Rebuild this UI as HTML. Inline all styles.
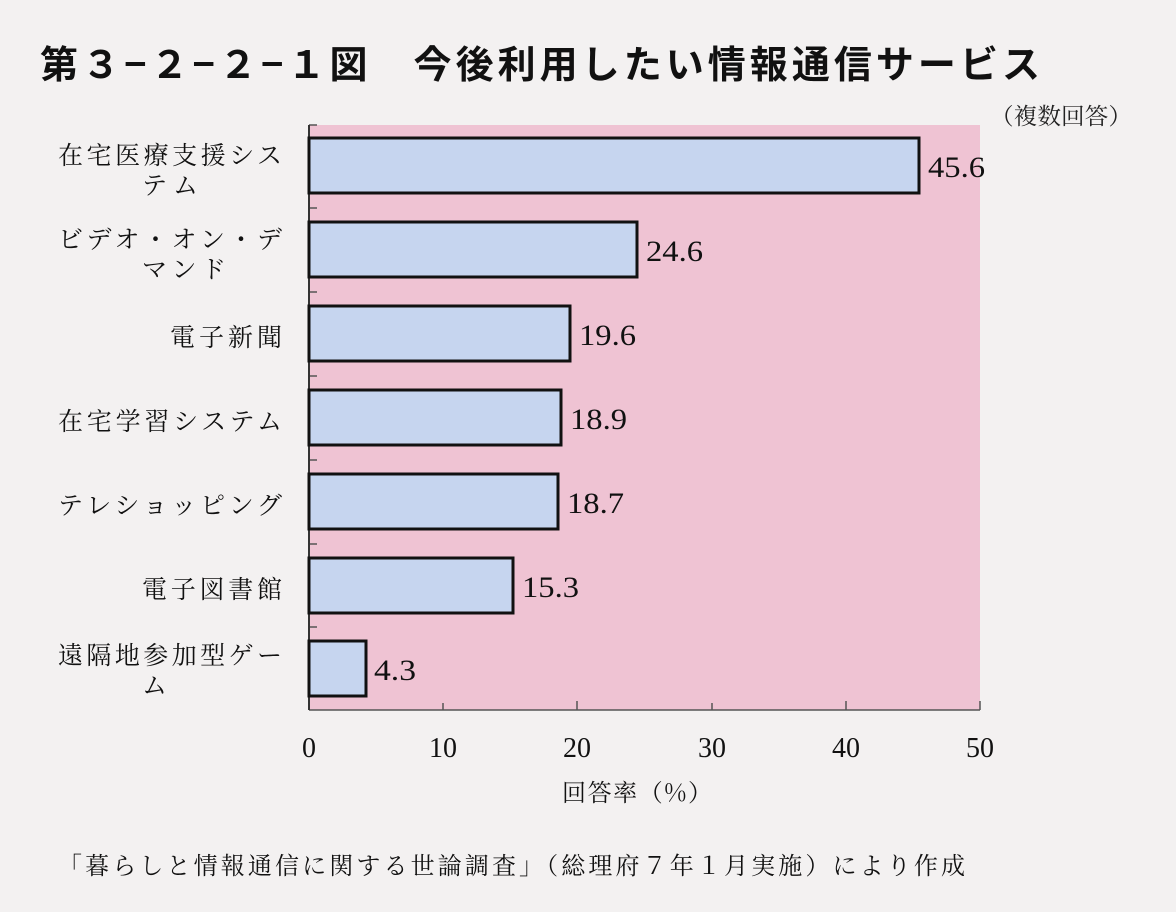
<!DOCTYPE html>
<html><head><meta charset="utf-8"><style>
html,body{margin:0;padding:0;background:#f3f1f1;}
svg{display:block}
</style></head><body>
<svg width="1176" height="912" viewBox="0 0 1176 912" xmlns="http://www.w3.org/2000/svg">
<rect width="1176" height="912" fill="#f3f1f1"/>
<text x="40" y="78" textLength="1000" lengthAdjust="spacing" font-family="'Noto Sans CJK JP',sans-serif" font-weight="bold" font-size="38" fill="#111">第３−２−２−１図　今後利用したい情報通信サービス</text>
<text x="990" y="124" textLength="142" lengthAdjust="spacingAndGlyphs" font-family="'Liberation Serif','Noto Serif CJK SC',serif" font-size="23" fill="#222">（複数回答）</text>
<rect x="309" y="125" width="671" height="585" fill="#efc3d3"/>
<g stroke="#555" stroke-width="1.5">
<line x1="443" y1="710" x2="443" y2="703"/><line x1="577" y1="710" x2="577" y2="701"/><line x1="712" y1="710" x2="712" y2="703"/><line x1="846" y1="710" x2="846" y2="701"/><line x1="980" y1="710" x2="980" y2="701"/>
<line x1="309" y1="710" x2="980" y2="710"/>
<line x1="309" y1="125" x2="317" y2="125"/><line x1="309" y1="208" x2="317" y2="208"/><line x1="309" y1="292" x2="317" y2="292"/><line x1="309" y1="376" x2="317" y2="376"/><line x1="309" y1="460" x2="317" y2="460"/><line x1="309" y1="544" x2="317" y2="544"/><line x1="309" y1="627" x2="317" y2="627"/>
</g>
<line x1="309" y1="125" x2="309" y2="710" stroke="#333" stroke-width="2"/>
<g fill="#c6d5ef" stroke="#111" stroke-width="3">
<rect x="309" y="138" width="610" height="55"/>
<rect x="309" y="222" width="328" height="55"/>
<rect x="309" y="306" width="261" height="55"/>
<rect x="309" y="390" width="252" height="55"/>
<rect x="309" y="474" width="249" height="55"/>
<rect x="309" y="558" width="204" height="55"/>
<rect x="309" y="641" width="57" height="55"/>
</g>
<g font-family="'Liberation Serif',serif" font-size="30" fill="#111">
<text x="928" y="177" textLength="57" lengthAdjust="spacingAndGlyphs">45.6</text>
<text x="646" y="261" textLength="57" lengthAdjust="spacingAndGlyphs">24.6</text>
<text x="579" y="345" textLength="57" lengthAdjust="spacingAndGlyphs">19.6</text>
<text x="570" y="429" textLength="57" lengthAdjust="spacingAndGlyphs">18.9</text>
<text x="567" y="513" textLength="57" lengthAdjust="spacingAndGlyphs">18.7</text>
<text x="522" y="597" textLength="57" lengthAdjust="spacingAndGlyphs">15.3</text>
<text x="374" y="680" textLength="42" lengthAdjust="spacingAndGlyphs">4.3</text>
</g>
<g font-family="'Noto Serif CJK SC',serif" font-size="25" fill="#111">
<text x="58" y="164" textLength="224" lengthAdjust="spacing">在宅医療支援シス</text>
<text x="142" y="194" textLength="56" lengthAdjust="spacing">テム</text>
<text x="58" y="248" textLength="224" lengthAdjust="spacing">ビデオ・オン・デ</text>
<text x="142" y="278" textLength="84" lengthAdjust="spacing">マンド</text>
<text x="170" y="346" textLength="112" lengthAdjust="spacing">電子新聞</text>
<text x="58" y="430" textLength="224" lengthAdjust="spacing">在宅学習システム</text>
<text x="58" y="514" textLength="224" lengthAdjust="spacing">テレショッピング</text>
<text x="142" y="598" textLength="140" lengthAdjust="spacing">電子図書館</text>
<text x="58" y="664" textLength="224" lengthAdjust="spacing">遠隔地参加型ゲー</text>
<text x="142" y="694" textLength="28" lengthAdjust="spacing">ム</text>
</g>
<g font-family="'Liberation Serif',serif" font-size="28" fill="#111" text-anchor="middle">
<text x="309" y="757">0</text><text x="443" y="757">10</text><text x="577" y="757">20</text><text x="712" y="757">30</text><text x="846" y="757">40</text><text x="980" y="757">50</text>
</g>
<text x="562" y="801" textLength="150" lengthAdjust="spacing" font-family="'Noto Serif CJK SC',serif" font-size="24" fill="#111">回答率（%）</text>
<text x="58" y="874" textLength="907" lengthAdjust="spacing" font-family="'Noto Serif CJK SC',serif" font-size="24" fill="#111">「暮らしと情報通信に関する世論調査」（総理府７年１月実施）により作成</text>
</svg>
</body></html>
